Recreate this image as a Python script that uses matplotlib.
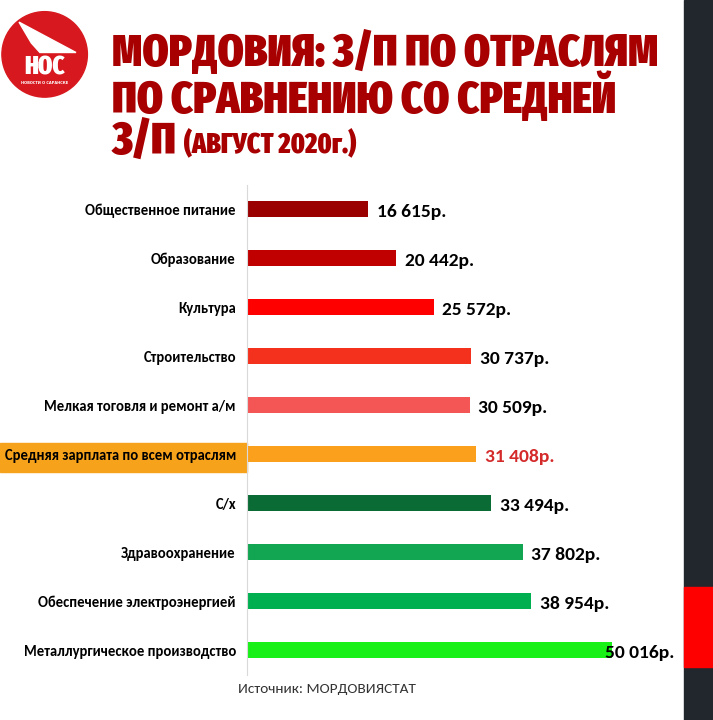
import matplotlib.pyplot as plt
from matplotlib.patches import Rectangle, Circle, Polygon

# данные (август 2020, Мордовиястат)
categories = [
    'Общественное питание',
    'Образование',
    'Культура',
    'Строительство',
    'Мелкая тоговля и ремонт а/м',
    'Средняя зарплата по всем отраслям',
    'С/х',
    'Здравоохранение',
    'Обеспечение электроэнергией',
    'Металлургическое производство',
]
salaries = [16615, 20442, 25572, 30737, 30509, 31408, 33494, 37802, 38954, 50016]
value_labels = ['16 615р.', '20 442р.', '25 572р.', '30 737р.', '30 509р.',
                '31 408р.', '33 494р.', '37 802р.', '38 954р.', '50 016р.']
bar_colors = ['#9a0000', '#c00000', '#ff0000', '#f4311c', '#f45555',
              '#fba01c', '#0a6b35', '#12a552', '#00b050', '#18f018']
avg_index = 5

title_font = ['Fira Sans Extra Condensed', 'DejaVu Sans']
label_font = ['Carlito', 'DejaVu Sans']

W, H = 713, 720
fig = plt.figure(figsize=(W / 100, H / 100), dpi=100)
fig.patch.set_facecolor('white')

# тёмная полоса справа
fig.patches.append(Rectangle((684 / W, 0), 1 - 684 / W, 1, transform=fig.transFigure,
                             color='#22272e', zorder=-2))
fig.patches.append(Rectangle((684 / W, 1 - 667 / H), 1 - 684 / W, 80 / H,
                             transform=fig.transFigure, color='#ff0000', zorder=-1))

# подсветка строки со средней зарплатой
fig.patches.append(Rectangle((0, 1 - 472 / H), 247 / W, 29 / H, transform=fig.transFigure,
                             color='#f7a21b', zorder=-1))

# логотип
logo = fig.add_axes([0, 1 - 100 / H, 95 / W, 95 / H])
logo.set_xlim(0, 1)
logo.set_ylim(0, 1)
logo.set_aspect('equal')
logo.axis('off')
logo.add_patch(Circle((0.47, 0.48), 0.45, color='#d7191f'))
logo.add_patch(Polygon([[0.2, 0.82], [0.8, 0.5], [0.42, 0.5], [0.33, 0.6]], color='white'))
logo.text(0.47, 0.34, 'НОС', color='white', fontsize=18, fontweight='black',
          family=title_font, ha='center', va='center')
logo.text(0.47, 0.18, 'НОВОСТИ О САРАНСКЕ', color='white', fontsize=2.6,
          fontweight='bold', ha='center', va='center')

# заголовок
title_lines = ['МОРДОВИЯ: З/П ПО ОТРАСЛЯМ', 'ПО СРАВНЕНИЮ СО СРЕДНЕЙ']
for i, line in enumerate(title_lines):
    fig.text(112 / W, 1 - (54 + 44 * i) / H, line, color='#a80000', fontsize=32.5,
             fontweight='black', family=title_font, va='center', ha='left')
fig.text(112 / W, 1 - 142 / H, 'З/П', color='#a80000', fontsize=32.5,
         fontweight='black', family=title_font, va='center', ha='left')
fig.text(184 / W, 1 - 145 / H, '(АВГУСТ 2020г.)', color='#a80000', fontsize=20,
         fontweight='black', family=title_font, va='center', ha='left')

# диаграмма
ax = fig.add_axes([247 / W, 1 - 675 / H, (684 - 247) / W, (675 - 185) / H])
ax.set_facecolor('none')
y = list(range(len(categories)))
ax.barh(y, salaries, height=0.33, color=bar_colors, zorder=2)
ax.set_xlim(0, 59880)
ax.set_ylim(9.51, -0.49)
ax.set_xticks([])
ax.set_yticks(y)
ax.set_yticklabels(categories, fontsize=10.5, family=label_font, fontweight='bold')
ax.tick_params(axis='y', length=0, pad=8)
for s in ['top', 'right', 'bottom']:
    ax.spines[s].set_visible(False)
ax.spines['left'].set_color('#d9d9d9')
ax.spines['left'].set_linewidth(0.8)

for i, (v, lab) in enumerate(zip(salaries, value_labels)):
    dx = -5 if i == len(salaries) - 1 else 6
    ax.annotate(lab, (v, i), xytext=(dx, -2), textcoords='offset points',
                ha='left', va='center', fontsize=14, fontweight='bold', family=label_font,
                color='#d42a2a' if i == avg_index else 'black', zorder=3)

fig.text(327 / W, 1 - 689 / H, 'Источник: МОРДОВИЯСТАТ', fontsize=11, family=label_font,
         color='#333333', ha='center', va='center')

fig.savefig('out.png', dpi=100)
